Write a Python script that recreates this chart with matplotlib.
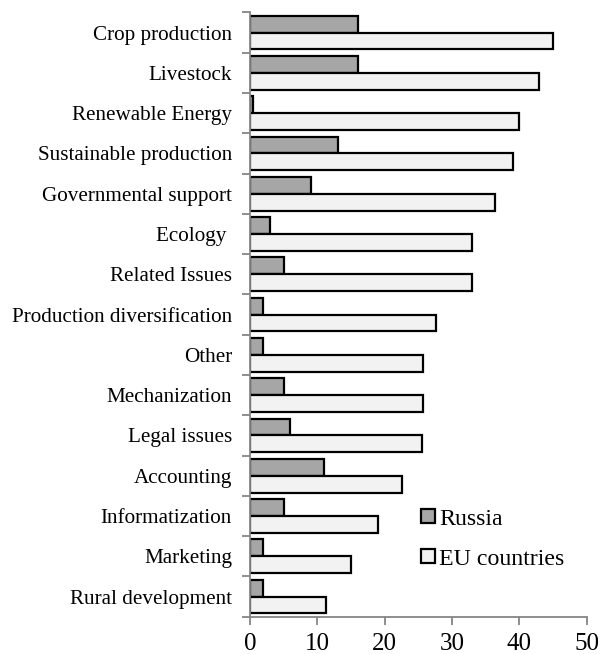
import numpy as np
import matplotlib.pyplot as plt

categories = ['Crop production', 'Livestock', 'Renewable Energy', 'Sustainable production',
              'Governmental support', 'Ecology ', 'Related Issues', 'Production diversification',
              'Other', 'Mechanization', 'Legal issues', 'Accounting', 'Informatization',
              'Marketing', 'Rural development']
russia = [16, 16, 0.5, 13, 9, 3, 5, 2, 2, 5, 6, 11, 5, 2, 2]
eu = [45, 43, 40, 39, 36.4, 33, 33, 27.7, 25.7, 25.7, 25.6, 22.6, 19, 15, 11.3]

plt.rcParams['font.family'] = ['Liberation Serif', 'DejaVu Serif']

fig = plt.figure(figsize=(6.01, 6.54), dpi=100)
ax = fig.add_axes([0.416, 0.057, 0.56, 0.924])

n = len(categories)
y = np.arange(n)[::-1]  # first category at top
h = 0.42

ax.barh(y + h / 2, russia, height=h, color='#a6a6a6', edgecolor='black', linewidth=1.6, label='Russia')
ax.barh(y - h / 2, eu, height=h, color='#f2f2f2', edgecolor='black', linewidth=1.6, label='EU countries')

ax.set_xlim(0, 50)
ax.set_ylim(-0.5, n - 0.5)
ax.set_xticks(range(0, 51, 10))

# labels at the centre, tick marks at category boundaries
ax.set_yticks(y)
ax.set_yticklabels(categories)
ax.set_yticks(np.arange(-0.5, n, 1), minor=True)
ax.tick_params(axis='y', which='major', length=0, pad=13, labelsize=15.2)
ax.tick_params(axis='y', which='minor', length=6, width=1.3, color='#868686')
ax.tick_params(axis='x', length=6, width=1.3, color='#868686', labelsize=18, pad=6)

for s in ['top', 'right']:
    ax.spines[s].set_visible(False)
for s in ['left', 'bottom']:
    ax.spines[s].set_color('#868686')
    ax.spines[s].set_linewidth(1.3)

ax.legend(loc='lower right', bbox_to_anchor=(0.963, 0.062), frameon=False, fontsize=17.2,
          handlelength=0.55, handleheight=0.55, handletextpad=0.2, labelspacing=0.8,
          borderaxespad=0)

plt.savefig('out.png', dpi=100)
